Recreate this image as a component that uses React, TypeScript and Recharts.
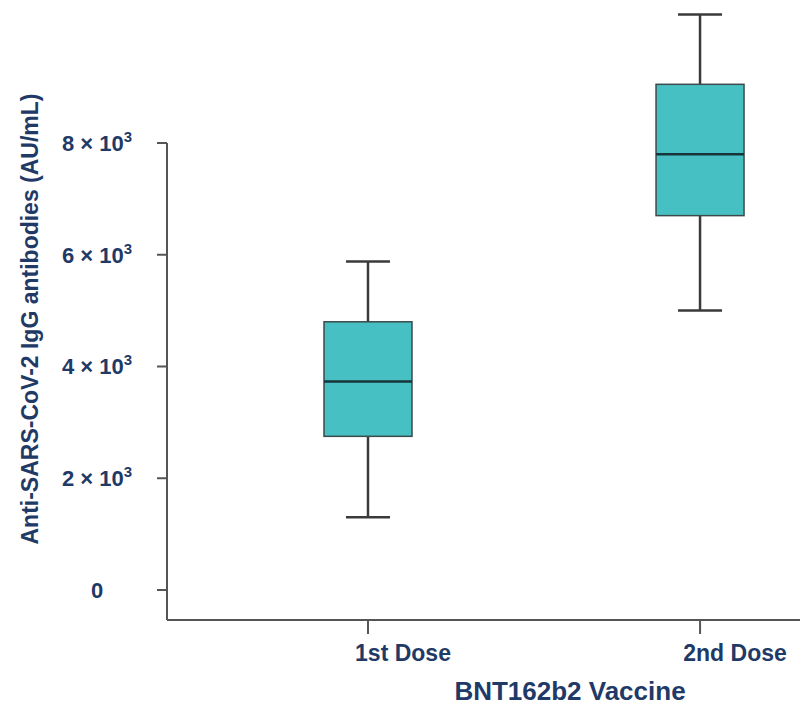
import { ComposedChart, Bar, XAxis, YAxis, ReferenceLine } from "recharts";

// categories and box statistics
const doses = ["1st Dose", "2nd Dose"];
const positions = [1, 2];
const whiskerLow = [1300, 5000];
const quartile1 = [2750, 6700];
const medians = [3730, 7800];
const quartile3 = [4800, 9050];
const whiskerHigh = [5880, 10300];
const yTicks = [0, 2000, 4000, 6000, 8000];

const X_DOMAIN: [number, number] = [0.3946, 2.301];
const Y_DOMAIN: [number, number] = [-537, 10559];

const NAVY = "#1f3a66";
const AXIS = "#555555";
const FONT = "'Liberation Sans', Arial, sans-serif";

const data = doses.map((name, i) => ({
  name,
  pos: positions[i],
  min: whiskerLow[i],
  q1: quartile1[i],
  median: medians[i],
  q3: quartile3[i],
  max: whiskerHigh[i]
}));

const BoxShape = (props: any) => {
  const { x, y, width, height, payload } = props;
  const { min, q1, median, q3, max } = payload;
  const top = height < 0 ? y + height : y;
  const h = Math.abs(height);
  const toY = (v: number) => top + ((max - v) / (max - min)) * h;
  const cx = x + width / 2;
  const cap = width / 4;
  return (
    <g>
      <line x1={cx} x2={cx} y1={toY(max)} y2={toY(q3)} stroke="#3a3a3a" strokeWidth={2.5} />
      <line x1={cx} x2={cx} y1={toY(q1)} y2={toY(min)} stroke="#3a3a3a" strokeWidth={2.5} />
      <line x1={cx - cap} x2={cx + cap} y1={toY(max)} y2={toY(max)} stroke="#3a3a3a" strokeWidth={2.5} />
      <line x1={cx - cap} x2={cx + cap} y1={toY(min)} y2={toY(min)} stroke="#3a3a3a" strokeWidth={2.5} />
      <rect
        x={x}
        y={toY(q3)}
        width={width}
        height={toY(q1) - toY(q3)}
        fill="#47c0c3"
        stroke="#3d4a4c"
        strokeWidth={1.5}
      />
      <line x1={x} x2={x + width} y1={toY(median)} y2={toY(median)} stroke="#16343a" strokeWidth={2.5} />
    </g>
  );
};

const YTick = ({ x, y, payload }: any) => {
  const v = payload.value;
  if (v === 0) {
    return (
      <text x={x - 58} y={y} dy={8} textAnchor="middle" fill={NAVY} fontSize={22} fontWeight="bold" fontFamily={FONT}>
        0
      </text>
    );
  }
  return (
    <text x={x - 58} y={y} dy={8} textAnchor="middle" fill={NAVY} fontSize={22} fontWeight="bold" fontFamily={FONT}>
      {`${v / 1000} × 10`}
      <tspan fontSize={15} dy={-9}>3</tspan>
    </text>
  );
};

const XTick = ({ x, y, payload }: any) => (
  <text x={x + 35} y={y + 25} textAnchor="middle" fill={NAVY} fontSize={23} fontWeight="bold" fontFamily={FONT}>
    {doses[positions.indexOf(payload.value)]}
  </text>
);

export default function App() {
  return (
    <div style={{ position: "absolute", left: 0, top: 0, width: 800, height: 706, background: "#fff" }}>
      <ComposedChart width={800} height={706} data={data} margin={{ top: 0, right: 0, bottom: 0, left: 0 }}>
        <XAxis
          dataKey="pos"
          type="number"
          domain={X_DOMAIN}
          ticks={positions}
          height={86}
          tickSize={14}
          axisLine={{ stroke: AXIS, strokeWidth: 2 }}
          tickLine={{ stroke: AXIS, strokeWidth: 2 }}
          tick={<XTick />}
          label={{
            content: ({ viewBox }: any) => (
              <text
                x={viewBox.x + 403}
                y={viewBox.y + 80}
                textAnchor="middle"
                fill={NAVY}
                fontSize={26}
                fontWeight="bold"
                fontFamily={FONT}
              >
                BNT162b2 Vaccine
              </text>
            )
          }}
        />
        <YAxis
          type="number"
          domain={Y_DOMAIN}
          ticks={yTicks}
          width={167}
          tickSize={10}
          axisLine={false}
          tickLine={{ stroke: AXIS, strokeWidth: 2 }}
          tick={<YTick />}
          label={{
            content: ({ viewBox }: any) => {
              const cx = viewBox.x + 30;
              const cy = viewBox.y + 319;
              return (
                <text
                  x={cx}
                  y={cy}
                  transform={`rotate(-90, ${cx}, ${cy})`}
                  textAnchor="middle"
                  dominantBaseline="central"
                  fill={NAVY}
                  fontSize={23}
                  fontWeight="bold"
                  fontFamily={FONT}
                >
                  Anti-SARS-CoV-2 IgG antibodies (AU/mL)
                </text>
              );
            }
          }}
        />
        <ReferenceLine
          segment={[
            { x: X_DOMAIN[0], y: Y_DOMAIN[0] },
            { x: X_DOMAIN[0], y: yTicks[yTicks.length - 1] }
          ]}
          stroke={AXIS}
          strokeWidth={2}
          ifOverflow="visible"
        />
        <Bar
          dataKey={(d: any) => [d.min, d.max]}
          barSize={88}
          shape={<BoxShape />}
          isAnimationActive={false}
        />
      </ComposedChart>
    </div>
  );
}
